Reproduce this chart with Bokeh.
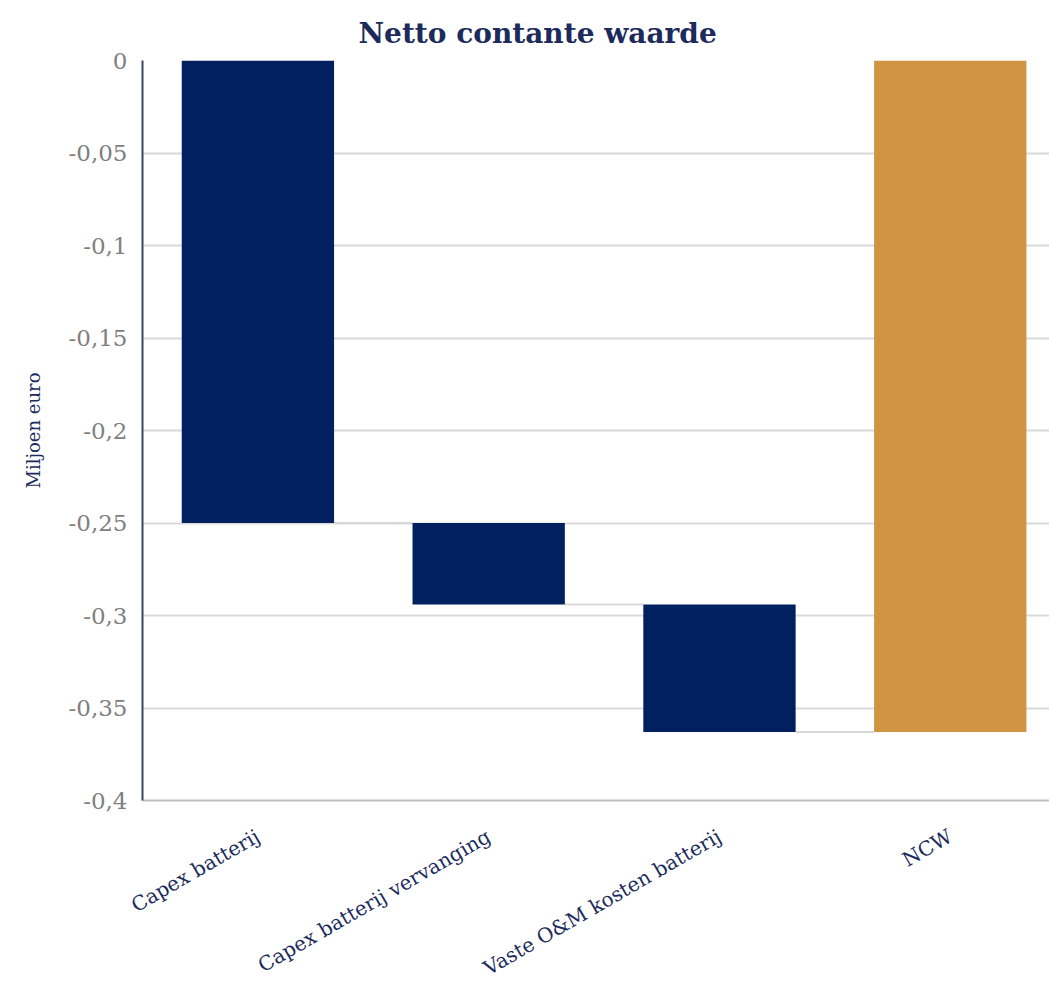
from bokeh.plotting import figure
from bokeh.models import Range1d, FixedTicker
from bokeh.embed import file_html
from bokeh.resources import INLINE
import math

categories = ["Capex batterij", "Capex batterij vervanging", "Vaste O&M kosten batterij", "NCW"]
deltas = [-0.25, -0.044, -0.069]
y_ticks = [0, -0.05, -0.1, -0.15, -0.2, -0.25, -0.3, -0.35, -0.4]
y_tick_labels = ["0", "-0,05", "-0,1", "-0,15", "-0,2", "-0,25", "-0,3", "-0,35", "-0,4"]

NAVY = "#002060"
GOLD = "#D09443"
TEXT_NAVY = "#1c2b5c"
GRID = "#d9d9d9"
FONT = "DejaVu Serif"

# waterfall geometry from the data
tops, bottoms = [], []
level = 0.0
for d in deltas:
    tops.append(level)
    level = level + d
    bottoms.append(level)
ncw_total = level
tops.append(0.0)
bottoms.append(ncw_total)
xs = list(range(len(categories)))
colors = [NAVY] * len(deltas) + [GOLD]

p = figure(width=1049, height=995, output_backend="svg", toolbar_location=None,
           x_range=Range1d(-0.5, 3.43), y_range=Range1d(-0.4, 0),
           min_border_left=142, min_border_right=0, min_border_top=60, min_border_bottom=195)
p.outline_line_color = None
p.background_fill_color = "white"
p.border_fill_color = "white"

p.title.text = "Netto contante waarde"
p.title.text_font = FONT
p.title.text_font_size = "28px"
p.title.text_font_style = "bold"
p.title.text_color = TEXT_NAVY
p.title.align = "left"
p.title.offset = 216
p.title.standoff = 21

p.xgrid.grid_line_color = None
p.ygrid.grid_line_color = GRID
p.ygrid.grid_line_width = 2
p.ygrid.ticker = FixedTicker(ticks=y_ticks)

# connectors
half = 0.33
cx0 = [i + half for i in range(len(deltas))]
cx1 = [i + 1 - half for i in range(len(deltas))]
clev = bottoms[:len(deltas)]
p.segment(x0=cx0, x1=cx1, y0=clev, y1=clev, line_color=GRID, line_width=2)

p.vbar(x=xs, top=tops, bottom=bottoms, width=0.66, fill_color=colors, line_color=None)

ya = p.yaxis[0]
ya.ticker = FixedTicker(ticks=y_ticks)
ya.major_label_overrides = {t: l for t, l in zip(y_ticks, y_tick_labels)}
ya.major_label_text_font = FONT
ya.major_label_text_font_size = "23px"
ya.major_label_text_color = "#7f7f7f"
ya.major_tick_line_color = None
ya.minor_tick_line_color = None
ya.major_label_standoff = 9
ya.axis_line_color = "#3a4660"
ya.axis_line_width = 2
ya.axis_label = "Miljoen euro"
ya.axis_label_text_font = FONT
ya.axis_label_text_font_size = "18px"
ya.axis_label_text_font_style = "normal"
ya.axis_label_text_color = TEXT_NAVY
ya.axis_label_standoff = 22

xa = p.xaxis[0]
xa.ticker = FixedTicker(ticks=xs)
xa.major_label_overrides = {i: c for i, c in zip(xs, categories)}
xa.major_label_orientation = math.pi / 6
xa.major_label_text_font = FONT
xa.major_label_text_font_size = "20px"
xa.major_label_text_color = TEXT_NAVY
xa.major_tick_line_color = None
xa.minor_tick_line_color = None
xa.axis_line_color = "#bfbfbf"
xa.axis_line_width = 2
xa.major_label_standoff = 28

open("out.html", "w").write(file_html(p, INLINE))
